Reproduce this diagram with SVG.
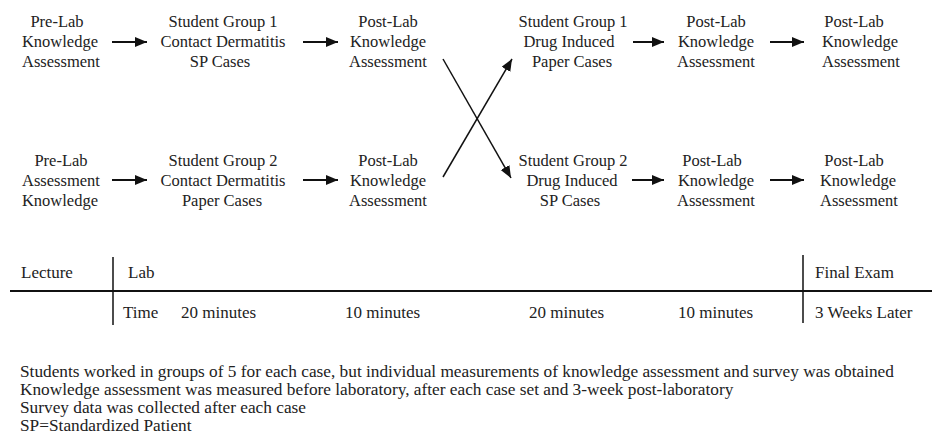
<svg xmlns="http://www.w3.org/2000/svg" width="932" height="441" viewBox="0 0 932 441">
<defs>
<marker id="ah" markerUnits="userSpaceOnUse" markerWidth="14" markerHeight="12" refX="12" refY="5" orient="auto">
<path d="M0,0 L12,5 L0,10 Z" fill="#111"/>
</marker>
<style>
.n text{font-size:16.5px;text-anchor:middle;}
.t{font-size:17px;}
.b{font-size:17.3px;}
.c line{stroke:#111;stroke-width:2;marker-end:url(#ah);}
.x{stroke:#111;stroke-width:1.5;fill:none;}
</style>
</defs>
<rect width="932" height="441" fill="#fff"/>
<g font-family="Liberation Serif, Times New Roman, serif" fill="#222">
<g class="n">
<g id="n1"><text x="57" y="27">Pre-Lab</text><text x="60" y="47">Knowledge</text><text x="61" y="67">Assessment</text></g>
<g id="n2"><text x="223" y="27">Student Group 1</text><text x="223" y="47">Contact Dermatitis</text><text x="220" y="67">SP Cases</text></g>
<g id="n3"><text x="388" y="27">Post-Lab</text><text x="388" y="47">Knowledge</text><text x="388" y="67">Assessment</text></g>
<g id="n4"><text x="573" y="27">Student Group 1</text><text x="569" y="47">Drug Induced</text><text x="572" y="67">Paper Cases</text></g>
<g id="n5"><text x="716" y="27">Post-Lab</text><text x="716" y="47">Knowledge</text><text x="716" y="67">Assessment</text></g>
<g id="n6"><text x="854" y="27">Post-Lab</text><text x="860" y="47">Knowledge</text><text x="861" y="67">Assessment</text></g>
<g id="n7"><text x="61" y="166">Pre-Lab</text><text x="61" y="186">Assessment</text><text x="60" y="206">Knowledge</text></g>
<g id="n8"><text x="223" y="166">Student Group 2</text><text x="223" y="186">Contact Dermatitis</text><text x="222" y="206">Paper Cases</text></g>
<g id="n9"><text x="388" y="166">Post-Lab</text><text x="388" y="186">Knowledge</text><text x="388" y="206">Assessment</text></g>
<g id="n10"><text x="573" y="166">Student Group 2</text><text x="572" y="186">Drug Induced</text><text x="570" y="206">SP Cases</text></g>
<g id="n11"><text x="712" y="166">Post-Lab</text><text x="716" y="186">Knowledge</text><text x="716" y="206">Assessment</text></g>
<g id="n12"><text x="854" y="166">Post-Lab</text><text x="858" y="186">Knowledge</text><text x="859" y="206">Assessment</text></g>
</g>
<g id="timeline">
<text class="t" x="21" y="278">Lecture</text>
<text class="t" x="128" y="278">Lab</text>
<text class="t" x="815" y="278">Final Exam</text>
<text class="t" x="123" y="318">Time</text>
<text class="t" x="181" y="318">20 minutes</text>
<text class="t" x="345" y="318">10 minutes</text>
<text class="t" x="529" y="318">20 minutes</text>
<text class="t" x="678" y="318">10 minutes</text>
<text class="t" x="815" y="318">3 Weeks Later</text>
</g>
<g id="notes">
<text class="b" x="20" y="377">Students worked in groups of 5 for each case, but individual measurements of knowledge assessment and survey was obtained</text>
<text class="b" x="20" y="395">Knowledge assessment was measured before laboratory, after each case set and 3-week post-laboratory</text>
<text class="b" x="20" y="413">Survey data was collected after each case</text>
<text class="b" x="20" y="431">SP=Standardized Patient</text>
</g>
</g>
<g id="connectors" class="c">
<line x1="112" y1="42" x2="147" y2="42"/>
<line x1="303" y1="42" x2="338" y2="42"/>
<line x1="633" y1="42" x2="664" y2="42"/>
<line x1="770" y1="42" x2="804" y2="42"/>
<line x1="112" y1="180" x2="147" y2="180"/>
<line x1="303" y1="180" x2="338" y2="180"/>
<line x1="632" y1="180" x2="664" y2="180"/>
<line x1="770" y1="180" x2="804" y2="180"/>
<line x1="443" y1="59" x2="511" y2="178" style="stroke-width:1.5"/>
<line x1="443" y1="177" x2="512" y2="59" style="stroke-width:1.5"/>
</g>
<g id="axis">
<line class="x" x1="10" y1="291" x2="932" y2="291" style="stroke-width:1.8"/>
<line class="x" x1="113" y1="257" x2="113" y2="325"/>
<line class="x" x1="803" y1="255" x2="803" y2="323"/>
</g>
</svg>
